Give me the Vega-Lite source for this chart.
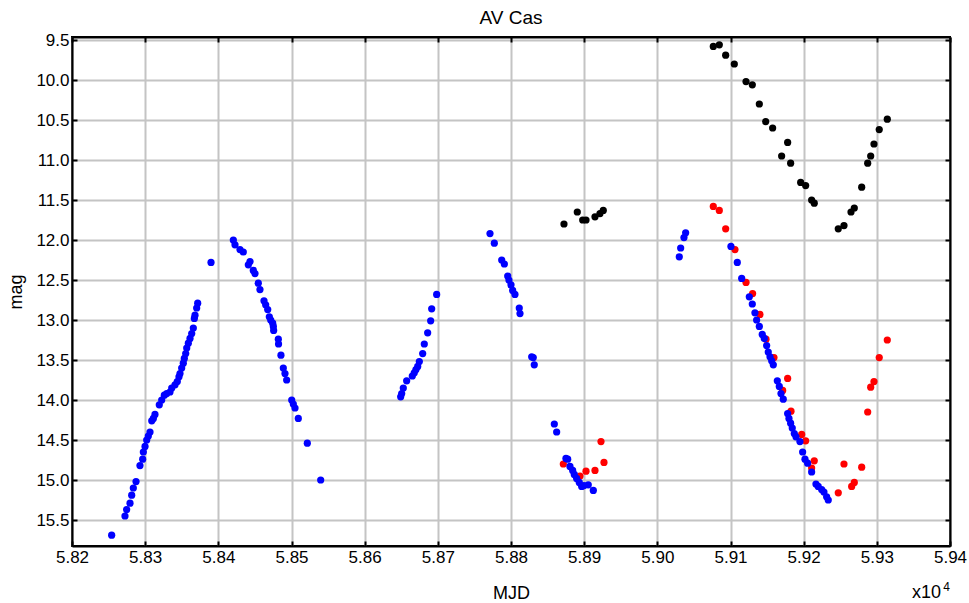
{
  "$schema": "https://vega.github.io/schema/vega-lite/v6.json",
  "width": 878,
  "height": 509,
  "autosize": {"type": "none"},
  "padding": {"left": 72, "top": 37, "right": 19, "bottom": 57},
  "background": "white",
  "title": {"text": "AV Cas", "fontSize": 19, "font": "Liberation Sans", "fontWeight": "normal", "color": "black", "offset": 3},
  "config": {"view": {"stroke": "black", "strokeWidth": 2}, "font": "Liberation Sans"},
  "datasets": {
    "obs": [
      {"MJD": 58872.4, "mag": 11.80, "band": "Vis"},
      {"MJD": 58890.6, "mag": 11.65, "band": "Vis"},
      {"MJD": 58898.0, "mag": 11.75, "band": "Vis"},
      {"MJD": 58902.5, "mag": 11.75, "band": "Vis"},
      {"MJD": 58914.8, "mag": 11.71, "band": "Vis"},
      {"MJD": 58921.6, "mag": 11.67, "band": "Vis"},
      {"MJD": 58926.1, "mag": 11.63, "band": "Vis"},
      {"MJD": 59076.5, "mag": 9.58, "band": "Vis"},
      {"MJD": 59084.7, "mag": 9.56, "band": "Vis"},
      {"MJD": 59093.4, "mag": 9.69, "band": "Vis"},
      {"MJD": 59105.2, "mag": 9.80, "band": "Vis"},
      {"MJD": 59121.2, "mag": 10.02, "band": "Vis"},
      {"MJD": 59129.8, "mag": 10.06, "band": "Vis"},
      {"MJD": 59139.4, "mag": 10.30, "band": "Vis"},
      {"MJD": 59148.1, "mag": 10.52, "band": "Vis"},
      {"MJD": 59157.6, "mag": 10.60, "band": "Vis"},
      {"MJD": 59169.9, "mag": 10.95, "band": "Vis"},
      {"MJD": 59178.1, "mag": 10.78, "band": "Vis"},
      {"MJD": 59182.2, "mag": 11.04, "band": "Vis"},
      {"MJD": 59195.9, "mag": 11.28, "band": "Vis"},
      {"MJD": 59202.7, "mag": 11.32, "band": "Vis"},
      {"MJD": 59210.9, "mag": 11.50, "band": "Vis"},
      {"MJD": 59214.5, "mag": 11.54, "band": "Vis"},
      {"MJD": 59247.3, "mag": 11.86, "band": "Vis"},
      {"MJD": 59255.1, "mag": 11.82, "band": "Vis"},
      {"MJD": 59264.7, "mag": 11.65, "band": "Vis"},
      {"MJD": 59269.2, "mag": 11.60, "band": "Vis"},
      {"MJD": 59279.3, "mag": 11.34, "band": "Vis"},
      {"MJD": 59287.5, "mag": 11.04, "band": "Vis"},
      {"MJD": 59291.6, "mag": 10.95, "band": "Vis"},
      {"MJD": 59296.1, "mag": 10.80, "band": "Vis"},
      {"MJD": 59303.3, "mag": 10.62, "band": "Vis"},
      {"MJD": 59314.3, "mag": 10.49, "band": "Vis"},

      {"MJD": 58871.5, "mag": 14.80, "band": "R"},
      {"MJD": 58894.3, "mag": 14.95, "band": "R"},
      {"MJD": 58902.5, "mag": 14.89, "band": "R"},
      {"MJD": 58914.8, "mag": 14.88, "band": "R"},
      {"MJD": 58923.0, "mag": 14.52, "band": "R"},
      {"MJD": 58927.1, "mag": 14.78, "band": "R"},
      {"MJD": 59076.5, "mag": 11.58, "band": "R"},
      {"MJD": 59084.7, "mag": 11.63, "band": "R"},
      {"MJD": 59093.4, "mag": 11.86, "band": "R"},
      {"MJD": 59106.1, "mag": 12.12, "band": "R"},
      {"MJD": 59121.2, "mag": 12.53, "band": "R"},
      {"MJD": 59130.2, "mag": 12.67, "band": "R"},
      {"MJD": 59140.2, "mag": 12.93, "band": "R"},
      {"MJD": 59148.5, "mag": 13.24, "band": "R"},
      {"MJD": 59159.4, "mag": 13.47, "band": "R"},
      {"MJD": 59171.3, "mag": 13.88, "band": "R"},
      {"MJD": 59178.1, "mag": 13.73, "band": "R"},
      {"MJD": 59182.7, "mag": 14.14, "band": "R"},
      {"MJD": 59197.3, "mag": 14.43, "band": "R"},
      {"MJD": 59202.7, "mag": 14.51, "band": "R"},
      {"MJD": 59210.9, "mag": 14.85, "band": "R"},
      {"MJD": 59214.5, "mag": 14.76, "band": "R"},
      {"MJD": 59247.3, "mag": 15.16, "band": "R"},
      {"MJD": 59255.1, "mag": 14.80, "band": "R"},
      {"MJD": 59265.6, "mag": 15.08, "band": "R"},
      {"MJD": 59269.2, "mag": 15.03, "band": "R"},
      {"MJD": 59279.3, "mag": 14.84, "band": "R"},
      {"MJD": 59287.5, "mag": 14.15, "band": "R"},
      {"MJD": 59291.6, "mag": 13.84, "band": "R"},
      {"MJD": 59296.1, "mag": 13.77, "band": "R"},
      {"MJD": 59303.3, "mag": 13.47, "band": "R"},
      {"MJD": 59314.3, "mag": 13.25, "band": "R"},

      {"MJD": 58254.2, "mag": 15.69, "band": "B"},
      {"MJD": 58272.4, "mag": 15.45, "band": "B"},
      {"MJD": 58274.7, "mag": 15.37, "band": "B"},
      {"MJD": 58279.3, "mag": 15.29, "band": "B"},
      {"MJD": 58281.6, "mag": 15.19, "band": "B"},
      {"MJD": 58283.8, "mag": 15.10, "band": "B"},
      {"MJD": 58287.5, "mag": 15.02, "band": "B"},
      {"MJD": 58292.9, "mag": 14.82, "band": "B"},
      {"MJD": 58296.6, "mag": 14.74, "band": "B"},
      {"MJD": 58297.5, "mag": 14.65, "band": "B"},
      {"MJD": 58299.8, "mag": 14.58, "band": "B"},
      {"MJD": 58302.1, "mag": 14.50, "band": "B"},
      {"MJD": 58304.3, "mag": 14.45, "band": "B"},
      {"MJD": 58306.6, "mag": 14.40, "band": "B"},
      {"MJD": 58309.0, "mag": 14.26, "band": "B"},
      {"MJD": 58311.2, "mag": 14.23, "band": "B"},
      {"MJD": 58313.4, "mag": 14.18, "band": "B"},
      {"MJD": 58319.3, "mag": 14.06, "band": "B"},
      {"MJD": 58322.6, "mag": 14.00, "band": "B"},
      {"MJD": 58326.2, "mag": 13.94, "band": "B"},
      {"MJD": 58329.4, "mag": 13.92, "band": "B"},
      {"MJD": 58333.9, "mag": 13.90, "band": "B"},
      {"MJD": 58336.3, "mag": 13.85, "band": "B"},
      {"MJD": 58340.8, "mag": 13.81, "band": "B"},
      {"MJD": 58343.9, "mag": 13.77, "band": "B"},
      {"MJD": 58346.2, "mag": 13.71, "band": "B"},
      {"MJD": 58347.6, "mag": 13.67, "band": "B"},
      {"MJD": 58349.9, "mag": 13.60, "band": "B"},
      {"MJD": 58352.1, "mag": 13.54, "band": "B"},
      {"MJD": 58353.5, "mag": 13.48, "band": "B"},
      {"MJD": 58355.4, "mag": 13.42, "band": "B"},
      {"MJD": 58356.8, "mag": 13.35, "band": "B"},
      {"MJD": 58359.0, "mag": 13.29, "band": "B"},
      {"MJD": 58361.3, "mag": 13.23, "band": "B"},
      {"MJD": 58363.6, "mag": 13.17, "band": "B"},
      {"MJD": 58365.8, "mag": 13.10, "band": "B"},
      {"MJD": 58367.2, "mag": 12.98, "band": "B"},
      {"MJD": 58368.1, "mag": 12.94, "band": "B"},
      {"MJD": 58370.4, "mag": 12.85, "band": "B"},
      {"MJD": 58371.8, "mag": 12.79, "band": "B"},
      {"MJD": 58390.0, "mag": 12.28, "band": "B"},
      {"MJD": 58420.5, "mag": 12.00, "band": "B"},
      {"MJD": 58422.8, "mag": 12.06, "band": "B"},
      {"MJD": 58429.6, "mag": 12.12, "band": "B"},
      {"MJD": 58434.1, "mag": 12.15, "band": "B"},
      {"MJD": 58441.0, "mag": 12.31, "band": "B"},
      {"MJD": 58443.3, "mag": 12.27, "band": "B"},
      {"MJD": 58447.8, "mag": 12.38, "band": "B"},
      {"MJD": 58450.1, "mag": 12.42, "band": "B"},
      {"MJD": 58454.6, "mag": 12.54, "band": "B"},
      {"MJD": 58456.9, "mag": 12.62, "band": "B"},
      {"MJD": 58462.4, "mag": 12.76, "band": "B"},
      {"MJD": 58464.7, "mag": 12.81, "band": "B"},
      {"MJD": 58467.5, "mag": 12.87, "band": "B"},
      {"MJD": 58469.7, "mag": 12.96, "band": "B"},
      {"MJD": 58471.6, "mag": 13.00, "band": "B"},
      {"MJD": 58474.3, "mag": 13.04, "band": "B"},
      {"MJD": 58475.2, "mag": 13.08, "band": "B"},
      {"MJD": 58475.6, "mag": 13.13, "band": "B"},
      {"MJD": 58482.0, "mag": 13.24, "band": "B"},
      {"MJD": 58482.3, "mag": 13.30, "band": "B"},
      {"MJD": 58485.6, "mag": 13.44, "band": "B"},
      {"MJD": 58488.8, "mag": 13.60, "band": "B"},
      {"MJD": 58491.1, "mag": 13.67, "band": "B"},
      {"MJD": 58493.4, "mag": 13.75, "band": "B"},
      {"MJD": 58500.3, "mag": 14.00, "band": "B"},
      {"MJD": 58502.5, "mag": 14.05, "band": "B"},
      {"MJD": 58504.8, "mag": 14.10, "band": "B"},
      {"MJD": 58509.3, "mag": 14.23, "band": "B"},
      {"MJD": 58521.6, "mag": 14.54, "band": "B"},
      {"MJD": 58539.9, "mag": 15.00, "band": "B"},
      {"MJD": 58649.2, "mag": 13.96, "band": "B"},
      {"MJD": 58650.6, "mag": 13.92, "band": "B"},
      {"MJD": 58652.8, "mag": 13.85, "band": "B"},
      {"MJD": 58657.4, "mag": 13.76, "band": "B"},
      {"MJD": 58665.1, "mag": 13.70, "band": "B"},
      {"MJD": 58667.8, "mag": 13.66, "band": "B"},
      {"MJD": 58670.1, "mag": 13.62, "band": "B"},
      {"MJD": 58672.5, "mag": 13.58, "band": "B"},
      {"MJD": 58674.7, "mag": 13.52, "band": "B"},
      {"MJD": 58679.3, "mag": 13.42, "band": "B"},
      {"MJD": 58681.5, "mag": 13.30, "band": "B"},
      {"MJD": 58686.1, "mag": 13.16, "band": "B"},
      {"MJD": 58690.2, "mag": 13.01, "band": "B"},
      {"MJD": 58691.6, "mag": 12.86, "band": "B"},
      {"MJD": 58698.4, "mag": 12.68, "band": "B"},
      {"MJD": 58771.3, "mag": 11.92, "band": "B"},
      {"MJD": 58777.2, "mag": 12.04, "band": "B"},
      {"MJD": 58787.3, "mag": 12.25, "band": "B"},
      {"MJD": 58790.9, "mag": 12.30, "band": "B"},
      {"MJD": 58795.5, "mag": 12.45, "band": "B"},
      {"MJD": 58797.2, "mag": 12.50, "band": "B"},
      {"MJD": 58800.0, "mag": 12.56, "band": "B"},
      {"MJD": 58802.3, "mag": 12.63, "band": "B"},
      {"MJD": 58805.4, "mag": 12.68, "band": "B"},
      {"MJD": 58811.3, "mag": 12.85, "band": "B"},
      {"MJD": 58812.3, "mag": 12.92, "band": "B"},
      {"MJD": 58828.3, "mag": 13.46, "band": "B"},
      {"MJD": 58830.4, "mag": 13.47, "band": "B"},
      {"MJD": 58831.8, "mag": 13.56, "band": "B"},
      {"MJD": 58859.2, "mag": 14.30, "band": "B"},
      {"MJD": 58862.4, "mag": 14.40, "band": "B"},
      {"MJD": 58875.1, "mag": 14.73, "band": "B"},
      {"MJD": 58877.5, "mag": 14.74, "band": "B"},
      {"MJD": 58880.6, "mag": 14.83, "band": "B"},
      {"MJD": 58884.3, "mag": 14.88, "band": "B"},
      {"MJD": 58886.5, "mag": 14.93, "band": "B"},
      {"MJD": 58889.7, "mag": 14.98, "band": "B"},
      {"MJD": 58893.3, "mag": 15.03, "band": "B"},
      {"MJD": 58896.6, "mag": 15.08, "band": "B"},
      {"MJD": 58899.7, "mag": 15.07, "band": "B"},
      {"MJD": 58905.6, "mag": 15.06, "band": "B"},
      {"MJD": 58912.5, "mag": 15.13, "band": "B"},
      {"MJD": 59030.0, "mag": 12.21, "band": "B"},
      {"MJD": 59031.9, "mag": 12.10, "band": "B"},
      {"MJD": 59036.4, "mag": 11.97, "band": "B"},
      {"MJD": 59038.7, "mag": 11.91, "band": "B"},
      {"MJD": 59100.6, "mag": 12.08, "band": "B"},
      {"MJD": 59109.3, "mag": 12.28, "band": "B"},
      {"MJD": 59115.3, "mag": 12.48, "band": "B"},
      {"MJD": 59125.7, "mag": 12.71, "band": "B"},
      {"MJD": 59129.8, "mag": 12.80, "band": "B"},
      {"MJD": 59133.4, "mag": 12.91, "band": "B"},
      {"MJD": 59135.7, "mag": 13.00, "band": "B"},
      {"MJD": 59139.4, "mag": 13.08, "band": "B"},
      {"MJD": 59143.4, "mag": 13.18, "band": "B"},
      {"MJD": 59146.2, "mag": 13.23, "band": "B"},
      {"MJD": 59149.4, "mag": 13.32, "band": "B"},
      {"MJD": 59151.6, "mag": 13.40, "band": "B"},
      {"MJD": 59154.0, "mag": 13.46, "band": "B"},
      {"MJD": 59156.3, "mag": 13.51, "band": "B"},
      {"MJD": 59158.5, "mag": 13.56, "band": "B"},
      {"MJD": 59164.0, "mag": 13.76, "band": "B"},
      {"MJD": 59166.7, "mag": 13.83, "band": "B"},
      {"MJD": 59169.0, "mag": 13.92, "band": "B"},
      {"MJD": 59172.1, "mag": 13.99, "band": "B"},
      {"MJD": 59178.1, "mag": 14.17, "band": "B"},
      {"MJD": 59179.9, "mag": 14.23, "band": "B"},
      {"MJD": 59182.2, "mag": 14.29, "band": "B"},
      {"MJD": 59184.4, "mag": 14.35, "band": "B"},
      {"MJD": 59187.2, "mag": 14.42, "band": "B"},
      {"MJD": 59189.5, "mag": 14.46, "band": "B"},
      {"MJD": 59194.9, "mag": 14.52, "band": "B"},
      {"MJD": 59198.6, "mag": 14.65, "band": "B"},
      {"MJD": 59201.8, "mag": 14.74, "band": "B"},
      {"MJD": 59205.4, "mag": 14.79, "band": "B"},
      {"MJD": 59210.9, "mag": 14.90, "band": "B"},
      {"MJD": 59216.8, "mag": 15.05, "band": "B"},
      {"MJD": 59219.9, "mag": 15.08, "band": "B"},
      {"MJD": 59224.6, "mag": 15.12, "band": "B"},
      {"MJD": 59227.7, "mag": 15.15, "band": "B"},
      {"MJD": 59231.4, "mag": 15.21, "band": "B"},
      {"MJD": 59233.6, "mag": 15.25, "band": "B"}
    ]
  },
  "data": {"name": "obs"},
  "layer": [
    {
      "mark": {"type": "circle", "size": 52, "opacity": 1},
      "encoding": {
        "x": {
          "field": "MJD", "type": "quantitative",
          "scale": {"domain": [58200, 59400], "nice": false, "zero": false},
          "axis": {
            "orient": "bottom",
            "values": [58200, 58300, 58400, 58500, 58600, 58700, 58800, 58900, 59000, 59100, 59200, 59300, 59400],
            "labelExpr": "format(datum.value / 10000, '.2f')",
            "title": "MJD",
            "grid": true, "gridColor": "#c4c4c4", "gridWidth": 2,
            "ticks": true, "tickSize": -5, "tickColor": "black", "tickWidth": 2,
            "domain": true, "domainColor": "black", "domainWidth": 2,
            "labelFontSize": 17, "labelColor": "black", "labelPadding": 8,
            "labelFlush": false, "labelOverlap": false, "labelBound": false,
            "titleFontSize": 18, "titleFontWeight": "normal", "titleColor": "black",
            "titleY": 52, "titleBaseline": "alphabetic"
          }
        },
        "y": {
          "field": "mag", "type": "quantitative",
          "scale": {"domain": [9.4625, 15.825], "reverse": true, "nice": false, "zero": false},
          "axis": {
            "orient": "left",
            "values": [9.5, 10, 10.5, 11, 11.5, 12, 12.5, 13, 13.5, 14, 14.5, 15, 15.5],
            "format": ".1f",
            "title": "mag",
            "grid": true, "gridColor": "#c4c4c4", "gridWidth": 2,
            "ticks": true, "tickSize": -5, "tickColor": "black", "tickWidth": 2,
            "domain": true, "domainColor": "black", "domainWidth": 2,
            "labelFontSize": 17, "labelColor": "black", "labelPadding": 8,
            "labelFlush": false, "labelOverlap": false, "labelBound": false,
            "titleFontSize": 18, "titleFontWeight": "normal", "titleColor": "black",
            "titleX": -56, "titleBaseline": "middle"
          }
        },
        "color": {
          "field": "band", "type": "nominal",
          "scale": {"domain": ["Vis", "R", "B"], "range": ["#000000", "#ff0000", "#0000ff"]},
          "legend": null
        }
      }
    },
    {
      "mark": {"type": "circle", "opacity": 0},
      "encoding": {
        "x": {
          "field": "MJD", "type": "quantitative",
          "axis": {
            "orient": "top",
            "values": [58200, 58300, 58400, 58500, 58600, 58700, 58800, 58900, 59000, 59100, 59200, 59300, 59400],
            "labels": false, "title": null, "grid": false,
            "ticks": true, "tickSize": -5, "tickColor": "black", "tickWidth": 2,
            "domain": true, "domainColor": "black", "domainWidth": 2
          }
        },
        "y": {
          "field": "mag", "type": "quantitative",
          "axis": {
            "orient": "right",
            "values": [9.5, 10, 10.5, 11, 11.5, 12, 12.5, 13, 13.5, 14, 14.5, 15, 15.5],
            "labels": false, "title": null, "grid": false,
            "ticks": true, "tickSize": -5, "tickColor": "black", "tickWidth": 2,
            "domain": true, "domainColor": "black", "domainWidth": 2
          }
        }
      }
    },
    {
      "data": {"values": [{"label": "x10"}]},
      "mark": {"type": "text", "align": "right", "baseline": "alphabetic", "dx": -9, "dy": 52, "fontSize": 18, "color": "black", "font": "Liberation Sans"},
      "encoding": {
        "x": {"datum": 59400, "type": "quantitative", "axis": null},
        "y": {"datum": 15.825, "type": "quantitative", "axis": null},
        "text": {"field": "label"}
      }
    },
    {
      "data": {"values": [{"label": "4"}]},
      "mark": {"type": "text", "align": "right", "baseline": "alphabetic", "dx": 0, "dy": 45, "fontSize": 12, "color": "black", "font": "Liberation Sans"},
      "encoding": {
        "x": {"datum": 59400, "type": "quantitative", "axis": null},
        "y": {"datum": 15.825, "type": "quantitative", "axis": null},
        "text": {"field": "label"}
      }
    }
  ],
  "resolve": {"axis": {"x": "independent", "y": "independent"}}
}
